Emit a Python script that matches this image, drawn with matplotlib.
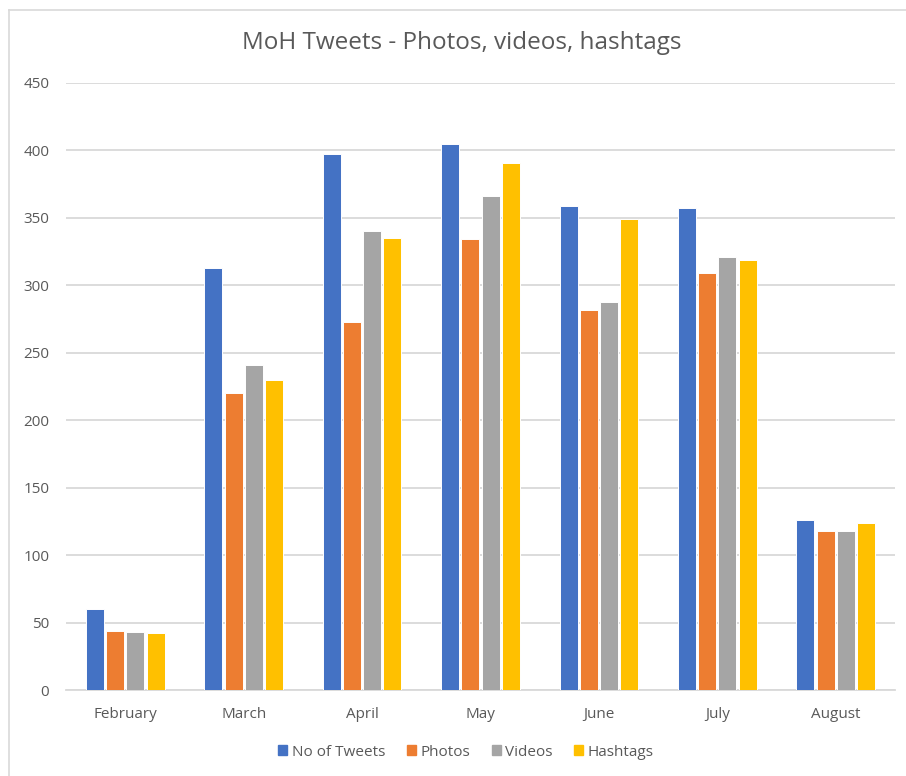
import numpy as np
import matplotlib.pyplot as plt
from matplotlib.lines import Line2D

months = ['February', 'March', 'April', 'May', 'June', 'July', 'August']
tweets = [60, 313, 397, 405, 359, 357, 126]
photos = [44, 220, 273, 334, 282, 309, 118]
videos = [43, 241, 340, 366, 288, 321, 118]
hashtags = [42, 230, 335, 391, 349, 319, 124]

series = ['No of Tweets', 'Photos', 'Videos', 'Hashtags']
colors = ['#4472C4', '#ED7D31', '#A5A5A5', '#FFC000']
txt = '#595959'

plt.rcParams['font.family'] = ['Open Sans', 'DejaVu Sans']

fig = plt.figure(figsize=(9.06, 7.76), dpi=100)
ax = fig.add_axes([66/906, 86/776, 829/906, 607/776])

x = np.arange(len(months))
slot = 0.171
for i, vals in enumerate([tweets, photos, videos, hashtags]):
    ax.bar(x + (i - 1.5)*slot, vals, width=0.152, color=colors[i],
           edgecolor='white', linewidth=0.7, label=series[i], zorder=3)

ax.set_xlim(-0.5, 6.5)
ax.set_ylim(0, 450)
ax.set_yticks(range(0, 451, 50))
ax.set_xticks(x)
ax.set_xticklabels(months)
ax.grid(axis='y', color='#d9d9d9', linewidth=1.3, zorder=0)
ax.tick_params(length=0, labelsize=11, labelcolor=txt)
ax.tick_params(axis='x', pad=12.5)
ax.tick_params(axis='y', pad=12)
for s in ['top', 'right', 'left']:
    ax.spines[s].set_visible(False)
ax.spines['bottom'].set_color('#d9d9d9')
ax.spines['bottom'].set_linewidth(1.3)

fig.text(462/906, 1 - 43/776, 'MoH Tweets - Photos, videos, hashtags',
         ha='center', va='center', fontsize=17.5, color=txt)

handles = [plt.Rectangle((0, 0), 1, 1, color=c) for c in colors]
fig.legend(handles, series, loc='center', bbox_to_anchor=(466/906, 1 - 752/776),
           ncol=4, frameon=False, fontsize=11, labelcolor=txt,
           handlelength=0.6, handleheight=0.6, handletextpad=0.3, columnspacing=1.4)

# chart frame (left and top edges visible)
fig.add_artist(Line2D([8.5/906, 8.5/906], [0, 1 - 10/776], color='#d9d9d9', lw=1.2,
                      transform=fig.transFigure))
fig.add_artist(Line2D([8.5/906, 1], [1 - 10/776, 1 - 10/776], color='#d9d9d9', lw=1.2,
                      transform=fig.transFigure))

fig.savefig('out.png', dpi=100)
